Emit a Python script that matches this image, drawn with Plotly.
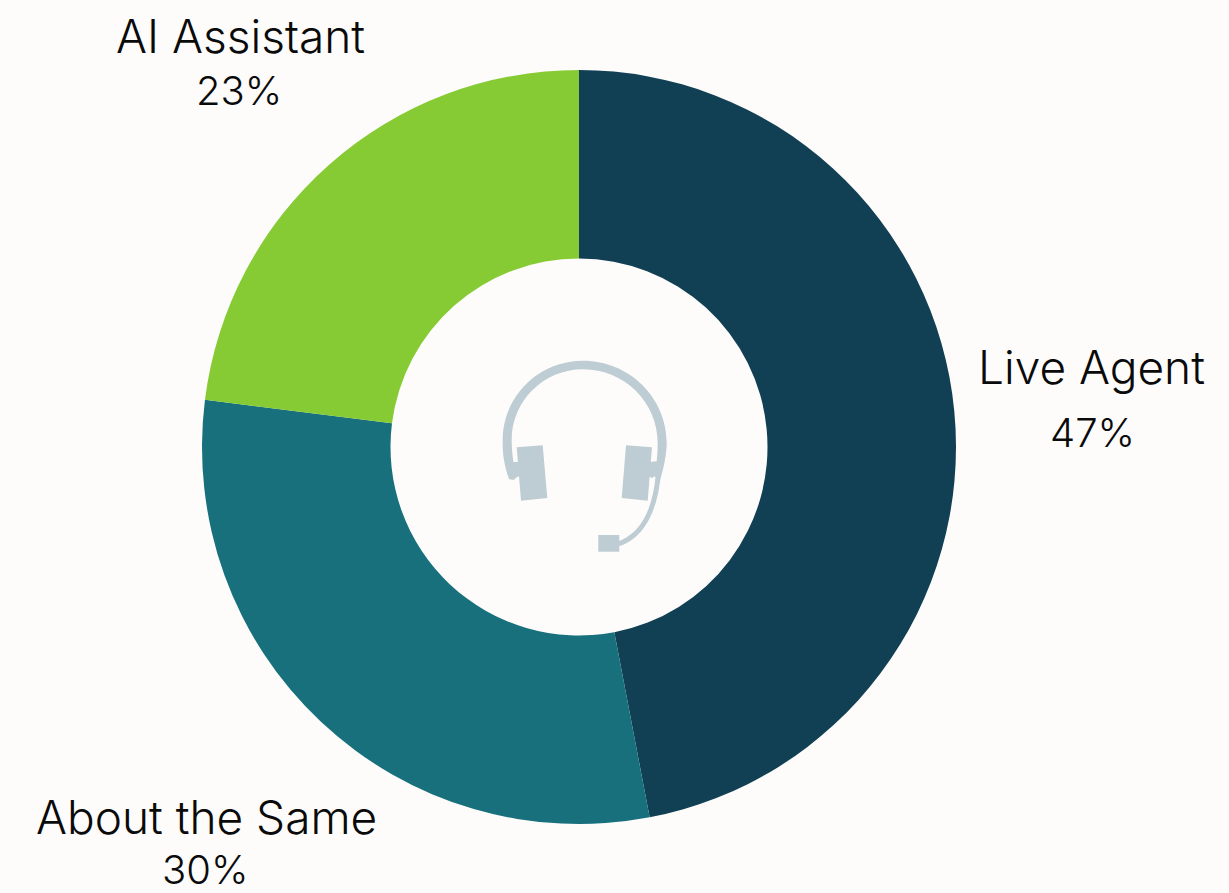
import plotly.graph_objects as go

WIDTH, HEIGHT = 1229, 893

# Survey shares
categories = ["Live Agent", "About the Same", "AI Assistant"]
shares = [47, 30, 23]
slice_colors = ["#114055", "#17707C", "#86CB33"]

# Label anchor centres, in page pixels: (name x, name y, share x, share y)
label_anchors = [
    (1091, 367, 1092, 432),
    (206, 817, 205, 869),
    (240, 36, 239, 91),
]

PAGE_BG = "#FDFCFB"
ICON = "#BECCD3"
NAME_FONT = dict(family="Inter, 'Noto Sans', sans-serif", size=46, color="#0A0A0A", weight=300)
SHARE_FONT = dict(NAME_FONT, size=40)

CX, CY, R = 579, 447, 377


def px(x):
    return x / WIDTH


def py(y):
    return 1 - y / HEIGHT


def path(*cmds):
    """Build an SVG path from command letters and page-pixel points."""
    out = []
    for c in cmds:
        if isinstance(c, str):
            out.append(c)
        else:
            out.append(f"{px(c[0]):.5f},{py(c[1]):.5f}")
    return " ".join(out)


fig = go.Figure(
    go.Pie(
        labels=categories,
        values=shares,
        sort=False,
        direction="clockwise",
        rotation=0,
        hole=0.5,
        marker=dict(colors=slice_colors, line=dict(width=0)),
        textinfo="none",
        showlegend=False,
        domain=dict(x=[px(CX - R), px(CX + R)], y=[py(CY + R), py(CY - R)]),
    )
)

# Category names and percentages above the plot area
annotations = []
for name, share, (nx, ny, sx, sy) in zip(categories, shares, label_anchors):
    for text, x, y, font in ((name, nx, ny, NAME_FONT), (f"{share}%", sx, sy, SHARE_FONT)):
        annotations.append(
            dict(text=text, x=px(x), y=py(y), xref="paper", yref="paper",
                 xanchor="center", yanchor="middle", showarrow=False, font=font)
        )

# Headset icon in the hole of the donut
solid = dict(type="path", xref="paper", yref="paper", fillcolor=ICON, line=dict(width=0), layer="above")
outline = dict(type="path", xref="paper", yref="paper", fillcolor="rgba(0,0,0,0)", layer="above")
icon_shapes = [
    # head band, filled so that it can taper toward its ends
    dict(solid, path=path("M", (509, 479),
                          "C", (503, 462), (502.5, 450), (502.7, 440),
                          "C", (502.7, 396.2), (538.7, 360.7), (583, 360.7),
                          "C", (629.2, 360.7), (666.7, 397.6), (666.7, 443),
                          "C", (666.7, 453), (664, 468), (660, 480),
                          "L", (654, 476),
                          "C", (657, 465), (657.7, 452), (657.7, 443),
                          "C", (657.7, 402.3), (624.2, 369.3), (583, 369.3),
                          "C", (543.6, 369.3), (511.7, 401), (511.7, 440),
                          "C", (511.5, 450), (513, 462), (516, 474),
                          "Q", (517, 482), (509, 479), "Z")),
    # ear cups
    dict(solid, path=path("M", (516.7, 447.3), "L", (542.7, 445.3), "L", (547.3, 498), "L", (521, 500.7), "Z")),
    dict(solid, path=path("M", (626, 445.3), "L", (652, 447.3), "L", (647.7, 500.7), "L", (621.7, 498), "Z")),
    # links between band and cups
    dict(solid, path=path("M", (513, 462), "L", (522, 462), "L", (522, 475), "L", (515, 478), "Z")),
    dict(solid, path=path("M", (648, 462), "L", (661, 461), "L", (661, 472), "L", (652, 478), "L", (648, 476), "Z")),
    # microphone boom and capsule
    dict(outline, line=dict(color=ICON, width=5),
         path=path("M", (658.5, 472), "C", (656, 505), (645, 535), (618, 544))),
    dict(solid, path=path("M", (598.3, 535), "L", (619.3, 535), "L", (619.3, 551.7), "L", (598.3, 551.7), "Z")),
]

fig.update_layout(
    width=WIDTH,
    height=HEIGHT,
    margin=dict(l=0, r=0, t=0, b=0),
    paper_bgcolor=PAGE_BG,
    plot_bgcolor=PAGE_BG,
    annotations=annotations,
    shapes=icon_shapes,
)

fig.write_html("out.html")
